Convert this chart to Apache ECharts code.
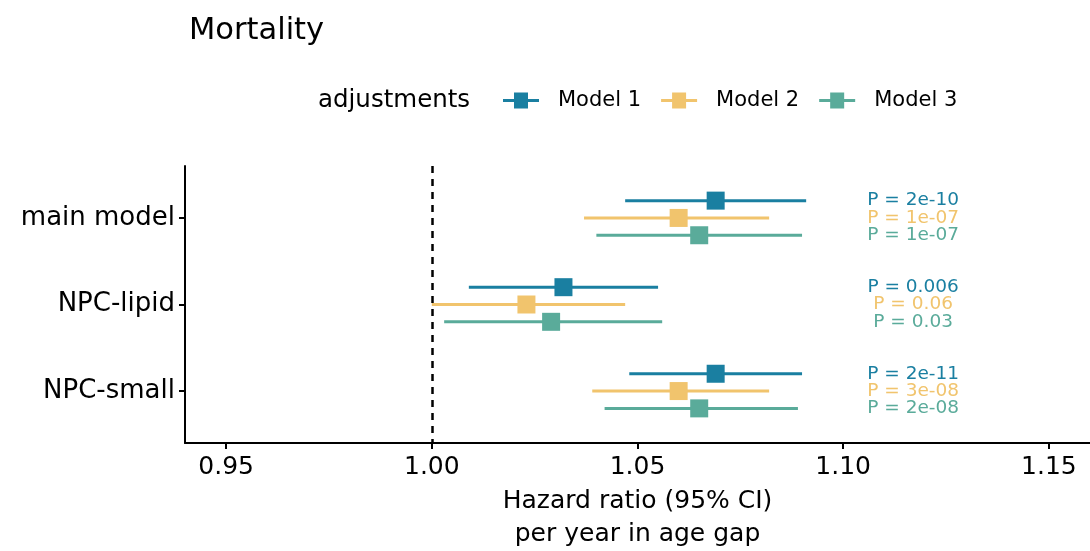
<!DOCTYPE html>
<html>
<head>
<meta charset="utf-8">
<title>Mortality</title>
<script src="https://cdn.jsdelivr.net/npm/echarts@6/dist/echarts.min.js"></script>
<style>
  html, body { margin: 0; padding: 0; background: #fff; }
  #chart { width: 1090px; height: 551px; }
</style>
</head>
<body>
<div id="chart"></div>
<script>
// categories, top to bottom
const categories = ['main model', 'NPC-lipid', 'NPC-small']
const models = ['Model 1', 'Model 2', 'Model 3']
const colors = ['#1a7fa1', '#f1c46d', '#5aab9a']

// hazard ratio per model, one value per category
const estimates = [
  [1.069, 1.032, 1.069],
  [1.060, 1.023, 1.060],
  [1.065, 1.029, 1.065]
]
const lowerCI = [
  [1.047, 1.009, 1.048],
  [1.037, 1.000, 1.039],
  [1.040, 1.003, 1.042]
]
const upperCI = [
  [1.091, 1.055, 1.090],
  [1.082, 1.047, 1.082],
  [1.090, 1.056, 1.089]
]
const pValues = [
  ['2e-10', '0.006', '2e-11'],
  ['1e-07', '0.06', '3e-08'],
  ['1e-07', '0.03', '2e-08']
]
const xTicks = [0.95, 1.00, 1.05, 1.10, 1.15]

const font = 'DejaVu Sans'
const dodge = [-0.2, 0, 0.2]
const pLabelX = 1.117
const legendIcon = 'path://M0,6.5H11V0H25V6.5H36V9.5H25V16H11V9.5H0Z'

const chart = echarts.init(document.getElementById('chart'))

// errorbar + square + p label
const renderItem = (params, api) => {
  const y = api.value(3)
  const lo = api.coord([api.value(0), y])
  const hi = api.coord([api.value(1), y])
  const est = api.coord([api.value(2), y])
  const pt = api.coord([pLabelX, y])
  const color = colors[params.seriesIndex]
  return {
    type: 'group',
    children: [
      {
        type: 'line',
        shape: { x1: lo[0], y1: lo[1], x2: hi[0], y2: hi[1] },
        style: { stroke: color, lineWidth: 3 }
      },
      {
        type: 'rect',
        shape: { x: est[0] - 9, y: est[1] - 9, width: 18, height: 18 },
        style: { fill: color }
      },
      {
        type: 'text',
        x: pt[0],
        y: pt[1],
        style: {
          text: 'P = ' + pValues[params.seriesIndex][params.dataIndex],
          fill: color,
          font: '18.5px "' + font + '"',
          align: 'center',
          verticalAlign: 'middle'
        }
      }
    ]
  }
}

const series = models.map((name, m) => ({
  name,
  type: 'custom',
  renderItem,
  itemStyle: { color: colors[m] },
  encode: { x: [0, 1, 2], y: 3 },
  data: categories.map((c, i) => [lowerCI[m][i], upperCI[m][i], estimates[m][i], i + 1 + dodge[m]]),
  markLine: m === 0 ? {
    silent: true,
    symbol: 'none',
    label: { show: false },
    lineStyle: { color: '#000', width: 2.5, type: [7, 6] },
    data: [{ xAxis: 1 }]
  } : undefined,
  z: 2 + m
}))

const option = {
  animation: false,
  textStyle: { fontFamily: font },
  title: {
    text: 'Mortality',
    left: 184,
    top: 11,
    textStyle: { fontFamily: font, fontSize: 30.5, fontWeight: 'normal', color: '#000' }
  },
  legend: {
    left: 498,
    top: 85,
    itemWidth: 36,
    itemHeight: 16,
    itemGap: 20,
    data: models.map(name => ({ name, icon: legendIcon })),
    textStyle: { fontFamily: font, fontSize: 21, color: '#000', padding: [0, 0, 0, 14] }
  },
  graphic: [
    {
      type: 'text',
      x: 318,
      y: 101,
      style: { text: 'adjustments', font: '24.5px "' + font + '"', fill: '#000', verticalAlign: 'middle' }
    }
  ],
  grid: { left: 185, right: 0, top: 166, bottom: 108, outerBoundsMode: 'none', containLabel: false },
  xAxis: {
    type: 'value',
    min: 0.94,
    max: 1.16,
    name: 'Hazard ratio (95% CI)\nper year in age gap',
    nameLocation: 'middle',
    nameGap: 40,
    nameTextStyle: { fontFamily: font, fontSize: 25, color: '#000', lineHeight: 33 },
    axisLine: { lineStyle: { color: '#000', width: 2 } },
    axisTick: { show: true, length: 6, customValues: xTicks, lineStyle: { color: '#000', width: 2 } },
    axisLabel: {
      customValues: xTicks,
      formatter: v => v.toFixed(2),
      fontSize: 25,
      color: '#000',
      margin: 12
    },
    splitLine: { show: false }
  },
  yAxis: {
    type: 'value',
    min: 0.4,
    max: 3.6,
    inverse: true,
    axisLine: { show: true, lineStyle: { color: '#000', width: 2 } },
    axisTick: { show: true, length: 6, customValues: [1, 2, 3], lineStyle: { color: '#000', width: 2 } },
    axisLabel: {
      customValues: [1, 2, 3],
      formatter: v => categories[Math.round(v) - 1],
      fontSize: 26,
      color: '#000',
      margin: 10
    },
    splitLine: { show: false }
  },
  series
}

chart.setOption(option)
</script>
</body>
</html>
